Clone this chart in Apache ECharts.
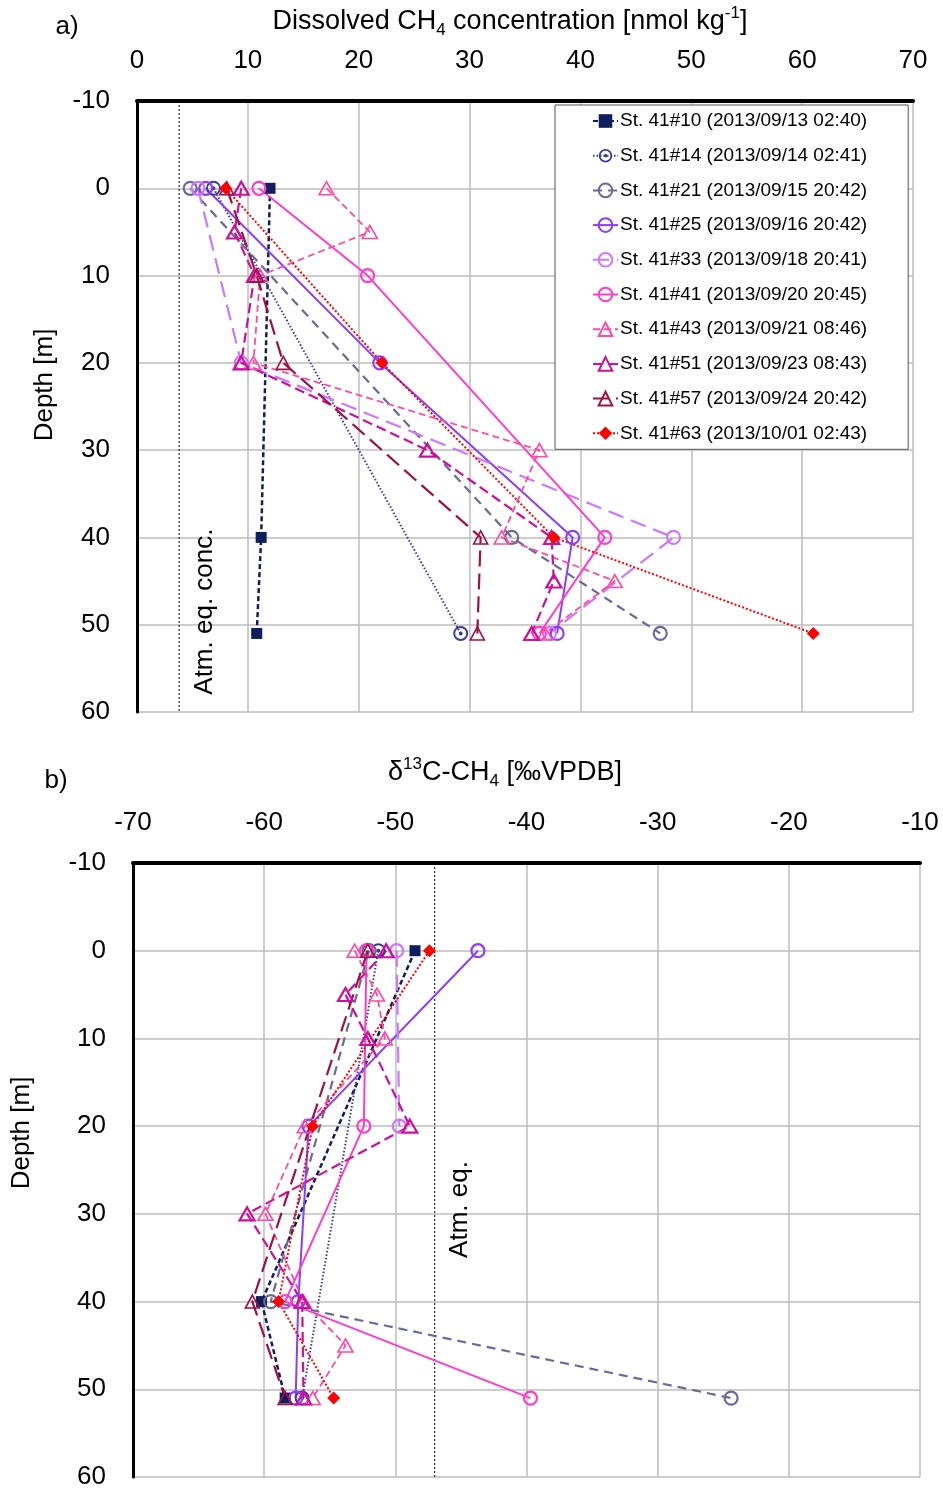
<!DOCTYPE html>
<html>
<head>
<meta charset="utf-8">
<script src="https://cdn.jsdelivr.net/npm/echarts@6/dist/echarts.min.js"></script>
<style>
  html, body { margin: 0; padding: 0; background: #fff; }
  #chart { width: 943px; height: 1490px; }
</style>
</head>
<body>
<div id="chart"></div>
<script>
// Station casts shown in both panels
const stationNames = [
  'St. 41#10 (2013/09/13 02:40)',
  'St. 41#14 (2013/09/14 02:41)',
  'St. 41#21 (2013/09/15 20:42)',
  'St. 41#25 (2013/09/16 20:42)',
  'St. 41#33 (2013/09/18 20:41)',
  'St. 41#41 (2013/09/20 20:45)',
  'St. 41#43 (2013/09/21 08:46)',
  'St. 41#51 (2013/09/23 08:43)',
  'St. 41#57 (2013/09/24 20:42)',
  'St. 41#63 (2013/10/01 02:43)'
];

// a) Dissolved CH4 [nmol kg-1], pairs of [depth m, concentration]
const ch4_41_10 = [[0, 12.0], [40, 11.2], [51, 10.8]];
const ch4_41_14 = [[0, 6.9], [51, 29.2]];
const ch4_41_21 = [[0, 4.8], [40, 33.8], [51, 47.2]];
const ch4_41_25 = [[0, 6.2], [20, 21.9], [40, 39.3], [51, 37.9]];
const ch4_41_33 = [[0, 5.5], [20, 9.4], [40, 48.4], [51, 37.2]];
const ch4_41_41 = [[0, 11.0], [10, 20.8], [40, 42.2], [51, 36.3]];
const ch4_41_43 = [[0, 17.1], [5, 21.0], [10, 11.1], [20, 10.5], [30, 36.3], [40, 32.9], [45, 43.1], [51, 36.8]];
const ch4_41_51 = [[0, 9.4], [5, 8.8], [10, 10.6], [20, 9.4], [30, 26.2], [40, 37.4], [45, 37.6], [51, 35.6]];
const ch4_41_57 = [[0, 8.1], [10, 10.8], [20, 13.2], [40, 31.0], [51, 30.7]];
const ch4_41_63 = [[0, 8.0], [20, 22.1], [40, 37.6], [51, 61.0]];

// b) δ13C-CH4 [‰ VPDB], pairs of [depth m, δ13C]
const d13c_41_10 = [[0, -48.5], [40, -60.2], [51, -58.4]];
const d13c_41_14 = [[0, -51.3], [51, -57.1]];
const d13c_41_21 = [[0, -52.0], [40, -59.5], [51, -24.4]];
const d13c_41_25 = [[0, -43.7], [20, -56.6], [40, -57.4], [51, -57.6]];
const d13c_41_33 = [[0, -49.9], [20, -49.7]];
const d13c_41_41 = [[0, -52.2], [20, -52.4], [40, -58.4], [51, -39.7]];
const d13c_41_43 = [[0, -53.1], [5, -51.4], [10, -50.8], [20, -56.9], [30, -59.9], [40, -57.0], [45, -53.8], [51, -56.3]];
const d13c_41_51 = [[0, -50.7], [5, -53.8], [10, -52.1], [20, -48.9], [30, -61.3], [40, -57.1], [51, -57.0]];
const d13c_41_57 = [[0, -52.1], [40, -60.9], [51, -58.4]];
const d13c_41_63 = [[0, -47.4], [20, -56.3], [40, -58.9], [51, -54.7]];

// Atmospheric equilibrium references
const atmEqConc = 3.8;
const atmEqD13C = -47.0;

// Axis tick labels
const concTicks = [0, 10, 20, 30, 40, 50, 60, 70];
const d13cTicks = [-70, -60, -50, -40, -30, -20, -10];
const depthTicks = [-10, 0, 10, 20, 30, 40, 50, 60];

const ch4Profiles = [ch4_41_10, ch4_41_14, ch4_41_21, ch4_41_25, ch4_41_33, ch4_41_41, ch4_41_43, ch4_41_51, ch4_41_57, ch4_41_63];
const d13cProfiles = [d13c_41_10, d13c_41_14, d13c_41_21, d13c_41_25, d13c_41_33, d13c_41_41, d13c_41_43, d13c_41_51, d13c_41_57, d13c_41_63];

const FONT = '"Liberation Sans", Arial, sans-serif';

// ring with a centre dot
const dotRing = 'path://M0,-10A10,10 0 1,1 0,10A10,10 0 1,1 0,-10Z M0,-7.4A7.4,7.4 0 1,0 0,7.4A7.4,7.4 0 1,0 0,-7.4Z M0,-2.6A2.6,2.6 0 1,1 0,2.6A2.6,2.6 0 1,1 0,-2.6Z';

// per-station drawing style
const styles = [
  { color: '#0e1f5b', dash: [5, 3],   width: 2.5, symbol: 'rect',     size: 11,       fill: true },
  { color: '#3a3a9a', dash: [1.5, 2], width: 2,   symbol: dotRing,    size: 15,       fill: true },
  { color: '#6a6a98', dash: [9, 6],   width: 2.2, symbol: 'circle',   size: 13 },
  { color: '#8b3dfa', dash: 'solid',  width: 2,   symbol: 'circle',   size: 13 },
  { color: '#cc77ff', dash: [16, 8],  width: 2.2, symbol: 'circle',   size: 13 },
  { color: '#ff3ccc', dash: 'solid',  width: 2,   symbol: 'circle',   size: 13 },
  { color: '#ff4aa5', dash: [7, 4],   width: 1.8, symbol: 'triangle', size: [15, 13], bw: 1.6 },
  { color: '#cc1199', dash: [10, 5],  width: 2.2, symbol: 'triangle', size: [15, 13] },
  { color: '#9e1146', dash: [16, 7],  width: 2.2, symbol: 'triangle', size: [14, 13], bw: 1.6 },
  { color: '#ff0000', dash: [2, 2],   width: 2,   symbol: 'diamond',  size: 13,       fill: true }
];

function profileSeries(profiles, axisIdx) {
  return profiles.map((pts, i) => {
    const s = styles[i];
    return {
      name: stationNames[i],
      type: 'line',
      xAxisIndex: axisIdx,
      yAxisIndex: axisIdx,
      data: pts.map(p => [p[1], p[0]]),
      symbol: s.symbol,
      symbolSize: s.size,
      showAllSymbol: true,
      lineStyle: { color: s.color, width: s.width, type: s.dash },
      itemStyle: s.fill
        ? { color: s.color, borderWidth: 0 }
        : { color: 'rgba(255,255,255,0)', borderColor: s.color, borderWidth: s.bw || 2.2 },
      emphasis: { disabled: true },
      silent: true,
      z: 3
    };
  });
}

function refLine(value, axisIdx) {
  return {
    type: 'line',
    xAxisIndex: axisIdx,
    yAxisIndex: axisIdx,
    data: [[value, depthTicks[0]], [value, depthTicks[depthTicks.length - 1]]],
    symbol: 'none',
    lineStyle: { color: '#000', width: 1, type: [2, 2] },
    silent: true,
    z: 2
  };
}

function valueAxis(ticks, extra) {
  return Object.assign({
    type: 'value',
    min: ticks[0],
    max: ticks[ticks.length - 1],
    interval: ticks[1] - ticks[0],
    axisTick: { show: false },
    splitLine: { show: true, lineStyle: { color: '#bdbdbd', width: 1.5 } },
    axisLabel: { color: '#000', fontFamily: FONT, fontSize: 26, margin: 27 }
  }, extra);
}

const chart = echarts.init(document.getElementById('chart'), null, { renderer: 'canvas' });

chart.setOption({
  animation: false,
  backgroundColor: '#fff',
  grid: [
    { left: 137, top: 101, width: 776, height: 611 },
    { left: 133, top: 863, width: 787, height: 615 }
  ],
  xAxis: [
    valueAxis(concTicks, { gridIndex: 0, position: 'top', axisLine: { show: true, onZero: false, lineStyle: { color: '#000', width: 4 } } }),
    valueAxis(d13cTicks, { gridIndex: 1, position: 'top', axisLine: { show: true, onZero: false, lineStyle: { color: '#000', width: 4 } } })
  ],
  yAxis: [
    valueAxis(depthTicks, { gridIndex: 0, inverse: true, axisLine: { show: true, onZero: false, lineStyle: { color: '#000', width: 3 } } }),
    valueAxis(depthTicks, { gridIndex: 1, inverse: true, axisLine: { show: true, onZero: false, lineStyle: { color: '#000', width: 3 } } })
  ],
  legend: {
    data: stationNames,
    orient: 'vertical',
    left: 555,
    top: 105,
    padding: [6, 41, 6, 37],
    itemGap: 14.7,
    itemWidth: 25,
    itemHeight: 17,
    backgroundColor: '#fff',
    borderColor: '#555',
    borderWidth: 1,
    selectedMode: false,
    textStyle: { color: '#000', fontFamily: FONT, fontSize: 19, lineHeight: 20, padding: [0, 0, 0, -3] }
  },
  series: [
    refLine(atmEqConc, 0),
    refLine(atmEqD13C, 1),
    ...profileSeries(ch4Profiles, 0),
    ...profileSeries(d13cProfiles, 1)
  ]
});

// labels placed from the axes' own scales
const pA = chart.convertToPixel({ gridIndex: 0 }, [atmEqConc, 0]);
const pB = chart.convertToPixel({ gridIndex: 1 }, [atmEqD13C, 0]);
const yA = chart.convertToPixel({ gridIndex: 0 }, [0, 48.5])[1];
const yB = chart.convertToPixel({ gridIndex: 1 }, [0, 29.5])[1];

const baseText = { fontFamily: FONT, fontSize: 26, fill: '#000', align: 'center', verticalAlign: 'middle' };
const rich = {
  sub: { fontFamily: FONT, fontSize: 17, lineHeight: 18, verticalAlign: 'bottom', fill: '#000' },
  sup: { fontFamily: FONT, fontSize: 17, lineHeight: 18, verticalAlign: 'top', fill: '#000' },
  n: { fontFamily: FONT, fontSize: 27, lineHeight: 34, fill: '#000' }
};

chart.setOption({
  graphic: [
    { type: 'text', x: 67, y: 27, style: Object.assign({ text: 'a)' }, baseText) },
    { type: 'text', x: 56, y: 781, style: Object.assign({ text: 'b)' }, baseText) },
    { type: 'text', x: 510, y: 22, style: Object.assign({}, baseText, {
        text: '{n|Dissolved CH}{sub|4}{n| concentration [nmol kg}{sup|-1}{n|]}', rich: rich }) },
    { type: 'text', x: 505, y: 773, style: Object.assign({}, baseText, {
        text: '{n|δ}{sup|13}{n|C-CH}{sub|4}{n| [‰VPDB]}', rich: rich }) },
    { type: 'text', x: 45, y: 385, rotation: Math.PI / 2, style: Object.assign({ text: 'Depth [m]' }, baseText) },
    { type: 'text', x: 22, y: 1133, rotation: Math.PI / 2, style: Object.assign({ text: 'Depth [m]' }, baseText) },
    { type: 'text', x: pA[0] + 26, y: yA, rotation: Math.PI / 2, style: Object.assign({ text: 'Atm. eq. conc.' }, baseText) },
    { type: 'text', x: pB[0] + 25, y: yB, rotation: Math.PI / 2, style: Object.assign({ text: 'Atm. eq.' }, baseText) }
  ]
});
</script>
</body>
</html>
